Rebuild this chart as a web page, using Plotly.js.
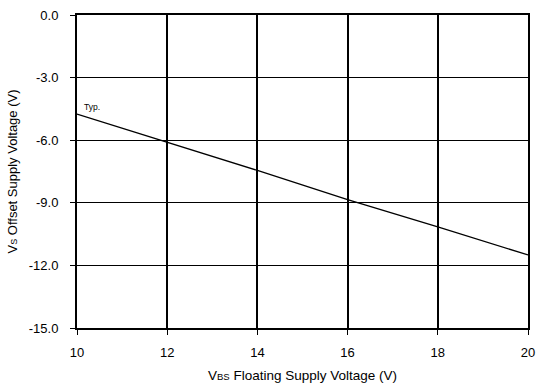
<!DOCTYPE html>
<html><head><meta charset="utf-8">
<script src="https://cdn.plot.ly/plotly-3.0.1.min.js"></script>
<style>html,body{margin:0;padding:0;background:#fff}#c{width:536px;height:385px}</style>
</head><body><div id="c"></div>
<script>
const vbs = [10, 12, 14, 16, 18, 20];
const vs = [-4.75, -6.1, -7.45, -8.85, -10.15, -11.5];
const xTicks = [10, 12, 14, 16, 18, 20];
const yTicks = [0, -3, -6, -9, -12, -15];
const yTickText = ['0.0', '-3.0', '-6.0', '-9.0', '-12.0', '-15.0'];

const font = {family: 'Liberation Sans, Arial, sans-serif', color: '#000', size: 13};
Plotly.newPlot('c', [{
  x: vbs, y: vs, type: 'scatter', mode: 'lines',
  line: {color: '#000', width: 1.3}, showlegend: false, hoverinfo: 'skip'
}], {
  width: 536, height: 385,
  margin: {l: 77, r: 8, t: 15, b: 57},
  paper_bgcolor: '#fff', plot_bgcolor: '#fff',
  font: font,
  xaxis: {
    range: [10, 20], tickvals: xTicks, ticktext: xTicks.map(String),
    showgrid: true, gridcolor: '#000', gridwidth: 2,
    showline: true, linecolor: '#000', linewidth: 2, mirror: true,
    ticks: 'outside', ticklen: 5, tickcolor: '#000', tickwidth: 1,
    ticklabelstandoff: 6,
    zeroline: false, tickfont: {size: 13},
    title: {text: 'V<span style="font-size:9.5px">BS</span> Floating Supply Voltage (V)', font: {size: 13.5}, standoff: 12}
  },
  yaxis: {
    range: [-15, 0], tickvals: yTicks, ticktext: yTickText,
    showgrid: true, gridcolor: '#000', gridwidth: 1.3,
    showline: true, linecolor: '#000', linewidth: 2, mirror: true,
    ticks: 'outside', ticklen: 5, tickcolor: '#000', tickwidth: 1,
    ticklabelstandoff: 9,
    zeroline: false, tickfont: {size: 13},
    title: {text: 'V<span style="font-size:9px">S</span> Offset Supply Voltage (V)', font: {size: 13}, standoff: 8}
  },
  annotations: [{
    x: 10.1, y: -4.4, xref: 'x', yref: 'y', text: 'Typ.', showarrow: false,
    xanchor: 'left', yanchor: 'middle', font: {size: 8.5, color: '#000'}
  }]
}, {displayModeBar: false, staticPlot: true});
</script></body></html>
